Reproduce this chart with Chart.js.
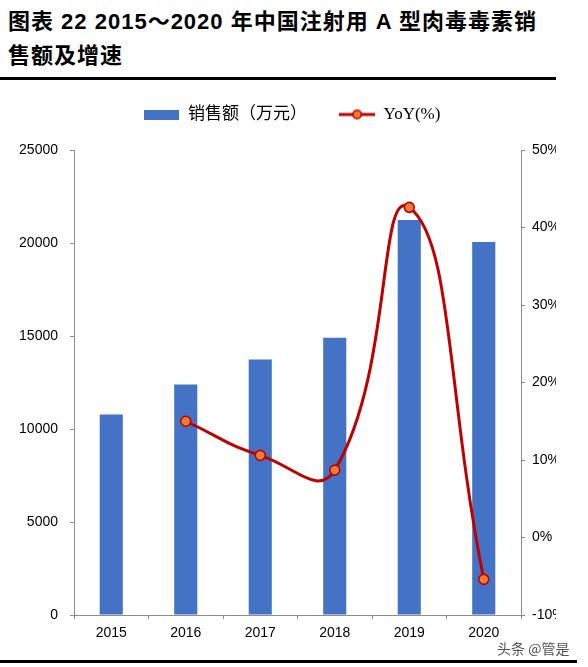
<!DOCTYPE html>
<html>
<head>
<meta charset="utf-8">
<script src="https://cdn.jsdelivr.net/npm/chart.js@4.4.0/dist/chart.umd.min.js"></script>
<style>
    html, body { margin: 0; padding: 0; background: #fff; overflow: hidden; }
    body { width: 588px; height: 667px; position: relative; }
    .title {
        position: absolute; left: 8px; top: 5px;
        font-family: "Liberation Sans", "Noto Sans CJK SC", sans-serif;
        font-weight: bold; font-size: 22px; line-height: 34px;
        letter-spacing: 1px; color: #000; white-space: nowrap;
    }
    .rule { position: absolute; left: 0; height: 3px; background: #000; }
    #wrap { position: absolute; left: 0; top: 74px; width: 556px; height: 580px; overflow: hidden; }
    .mark {
        position: absolute; left: 497px; top: 638px;
        font-family: "Noto Sans CJK SC", sans-serif; font-size: 14px; color: #555;
    }
</style>
</head>
<body>
<div class="title">图表 22 2015～2020 年中国注射用 A 型肉毒毒素销<br>售额及增速</div>
<div class="rule" style="top:77px;width:556px"></div>
<div id="wrap"><canvas id="salesChart" width="600" height="580" style="width:600px;height:580px"></canvas></div>
<div class="mark">头条 @管是</div>
<div class="rule" style="top:660px;width:577px"></div>

<script>
// dados
const years = ['2015', '2016', '2017', '2018', '2019', '2020'];
const sales = [10780, 12390, 13730, 14910, 21240, 20060];   // 万元
const yoy = [null, 15.0, 10.6, 8.7, 42.6, -5.4];            // %

const BLUE = '#4472C4';
const RED = '#C00000';
const ORANGE = '#ED7D31';
const AXIS = '#8C8C8C';

// ícones da legenda
function barIcon() {
    const c = document.createElement('canvas');
    c.width = 35; c.height = 10;
    const g = c.getContext('2d');
    g.fillStyle = BLUE;
    g.fillRect(0, 0, 35, 10);
    return c;
}

function lineIcon() {
    const c = document.createElement('canvas');
    c.width = 36; c.height = 12;
    const g = c.getContext('2d');
    g.strokeStyle = RED;
    g.lineWidth = 3;
    g.beginPath();
    g.moveTo(0, 6);
    g.lineTo(36, 6);
    g.stroke();
    g.beginPath();
    g.arc(18, 6, 4.2, 0, Math.PI * 2);
    g.fillStyle = ORANGE;
    g.fill();
    g.lineWidth = 1.6;
    g.stroke();
    return c;
}

// empurra a área do gráfico para baixo da legenda
const legendGap = {
    id: 'legendGap',
    beforeInit(chart) {
        const fit = chart.legend.fit;
        chart.legend.fit = function () {
            fit.bind(chart.legend)();
            this.height += 17;
        };
    }
};

const tickFont = { family: '"Liberation Sans", Arial, sans-serif', size: 14 };

const ctx = document.querySelector('#salesChart').getContext('2d');

const salesChart = new Chart(ctx, {
    type: 'bar',
    data: {
        labels: years,
        datasets: [
            {
                type: 'line',
                label: 'YoY(%)',
                data: yoy,
                yAxisID: 'y1',
                borderColor: RED,
                borderWidth: 3,
                tension: 0.5,
                pointRadius: 5,
                pointBackgroundColor: ORANGE,
                pointBorderColor: RED,
                pointBorderWidth: 1.6,
                fill: false,
                spanGaps: false,
                order: 0,
            },
            {
                label: '销售额（万元）',
                data: sales,
                yAxisID: 'y',
                backgroundColor: BLUE,
                categoryPercentage: 1,
                barPercentage: 0.31,
                order: 1,
            },
        ],
    },
    options: {
        responsive: false,
        animation: false,
        layout: { padding: { top: 0, left: 0, right: 16, bottom: 0 } },
        plugins: {
            tooltip: { enabled: false },
            legend: {
                position: 'top',
                labels: {
                    usePointStyle: true,
                    pointStyleWidth: 36,
                    padding: 32,
                    color: '#000',
                    font: { family: '"Liberation Serif", "Noto Sans CJK SC", serif', size: 17 },
                    generateLabels: () => [
                        { text: '销售额（万元）', pointStyle: barIcon(), datasetIndex: 1, lineWidth: 0, hidden: false },
                        { text: 'YoY(%)', pointStyle: lineIcon(), datasetIndex: 0, lineWidth: 0, hidden: false },
                    ],
                },
            },
        },
        scales: {
            x: {
                grid: { display: true, drawOnChartArea: false, drawTicks: true, tickLength: 4, color: AXIS, offset: true },
                border: { display: true, color: AXIS },
                ticks: { color: '#000', font: tickFont, padding: 6, maxRotation: 0 },
                afterFit: scale => { scale.height = 39; },
            },
            y: {
                position: 'left',
                min: 0,
                max: 25000,
                ticks: { stepSize: 5000, color: '#000', font: tickFont, padding: 12, callback: v => String(v) },
                grid: { display: true, drawOnChartArea: false, drawTicks: true, tickLength: 4, color: AXIS },
                border: { display: true, color: AXIS },
                afterFit: scale => { scale.width = 74; },
            },
            y1: {
                position: 'right',
                min: -10,
                max: 50,
                ticks: { stepSize: 10, color: '#000', font: tickFont, padding: 7, callback: v => v + '%' },
                grid: { display: true, drawOnChartArea: false, drawTicks: true, tickLength: 4, color: AXIS },
                border: { display: true, color: AXIS },
                afterFit: scale => { scale.width = 63; },
            },
        },
    },
    plugins: [legendGap],
});
</script>
</body>
</html>
